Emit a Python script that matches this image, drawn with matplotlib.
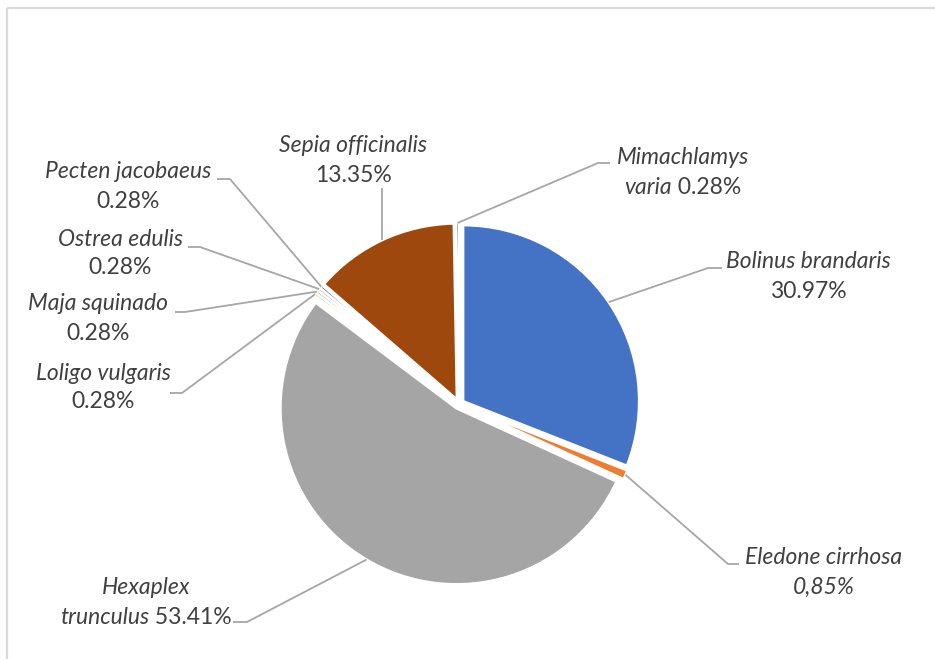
import math

import matplotlib.pyplot as plt
from matplotlib.patches import Rectangle

# data: slices clockwise from 12 o'clock
species = [
    "Bolinus brandaris",
    "Eledone cirrhosa",
    "Hexaplex trunculus",
    "Loligo vulgaris",
    "Maja squinado",
    "Ostrea edulis",
    "Pecten jacobaeus",
    "Sepia officinalis",
    "Mimachlamys varia",
]
shares = [30.97, 0.85, 53.41, 0.28, 0.28, 0.28, 0.28, 13.35, 0.28]
pct_labels = ["30.97%", "0,85%", "53.41%", "0.28%", "0.28%", "0.28%", "0.28%", "13.35%", "0.28%"]
colors = ["#4472C4", "#ED7D31", "#A5A5A5", "#FFC000", "#5B9BD5",
          "#70AD47", "#264478", "#9E480E", "#636363"]

# label layout (pixel coords): text centre x, first line y, words on line 1,
# italic percentage, leader points from text side towards the slice
label_layout = [
    dict(cx=808, y=262, words=2, pct_italic=False, path=[(722, 268), (708, 268)]),
    dict(cx=824, y=558, words=2, pct_italic=True, path=[(739, 564), (728, 564)]),
    dict(cx=146, y=588, words=1, pct_italic=False, path=[(233, 622), (247, 622)]),
    dict(cx=103, y=373, words=2, pct_italic=False, path=[(170, 393), (182, 393)]),
    dict(cx=98, y=304, words=2, pct_italic=False, path=[(175, 312), (185, 312)]),
    dict(cx=120, y=239, words=2, pct_italic=False, path=[(188, 247), (200, 247)]),
    dict(cx=128, y=172, words=2, pct_italic=False, path=[(217, 179), (230, 179)]),
    dict(cx=353, y=146, words=2, pct_italic=False, path=[(None, 188)]),
    dict(cx=683, y=158, words=1, pct_italic=False, path=[(610, 163), (598, 163)]),
]

W, H = 935, 659
TEXT_COLOR = "#404040"
LINE_COLOR = "#A6A6A6"
FONT = "Lato"
FONT_SIZE = 16.5
LINE_GAP = 29

fig = plt.figure(figsize=(W / 100, H / 100), dpi=100)
ax = fig.add_axes([0, 0, 1, 1])

# chart frame (top and left edges visible)
ax.add_patch(Rectangle((7, 8), 2000, 2000, fill=False, edgecolor="#D9D9D9", linewidth=1.6))

# y axis is inverted, so counterclockwise in data = clockwise on screen
wedges, _ = ax.pie(
    shares,
    colors=colors,
    center=(459, 404),
    radius=176,
    startangle=270,
    counterclock=True,
    explode=[5] * len(shares),
    wedgeprops=dict(edgecolor="white", linewidth=1.8),
    frame=True,
)
ax.set_xlim(0, W)
ax.set_ylim(H, 0)
ax.set_aspect("equal")
ax.axis("off")

renderer = fig.canvas.get_renderer()


def draw_line(cx, y, parts):
    artists = []
    for s, italic in parts:
        t = ax.text(0, y, s, fontsize=FONT_SIZE, family=FONT, color=TEXT_COLOR,
                    style="italic" if italic else "normal", ha="left", va="center")
        artists.append(t)
    widths = [t.get_window_extent(renderer).width for t in artists]
    x = cx - sum(widths) / 2
    for t, w in zip(artists, widths):
        t.set_x(x)
        x += w


for wedge, name, pct, lay in zip(wedges, species, pct_labels, label_layout):
    words = name.split()
    k = lay["words"]
    line1 = [(" ".join(words[:k]), True)]
    line2 = []
    if k < len(words):
        line2.append((" ".join(words[k:]), True))
        line2.append((" " + pct, lay["pct_italic"]))
    else:
        line2.append((pct, lay["pct_italic"]))
    draw_line(lay["cx"], lay["y"], line1)
    draw_line(lay["cx"], lay["y"] + LINE_GAP, line2)

    # leader line ends on the outer edge at the slice's mid angle
    theta = math.radians((wedge.theta1 + wedge.theta2) / 2)
    end_x = wedge.center[0] + wedge.r * math.cos(theta)
    end_y = wedge.center[1] + wedge.r * math.sin(theta)
    pts = [(end_x if px is None else px, py) for px, py in lay["path"]]
    pts.append((end_x, end_y))
    ax.plot([p[0] for p in pts], [p[1] for p in pts], color=LINE_COLOR,
            linewidth=1.3, solid_capstyle="butt")

fig.savefig("out.png", dpi=100)
